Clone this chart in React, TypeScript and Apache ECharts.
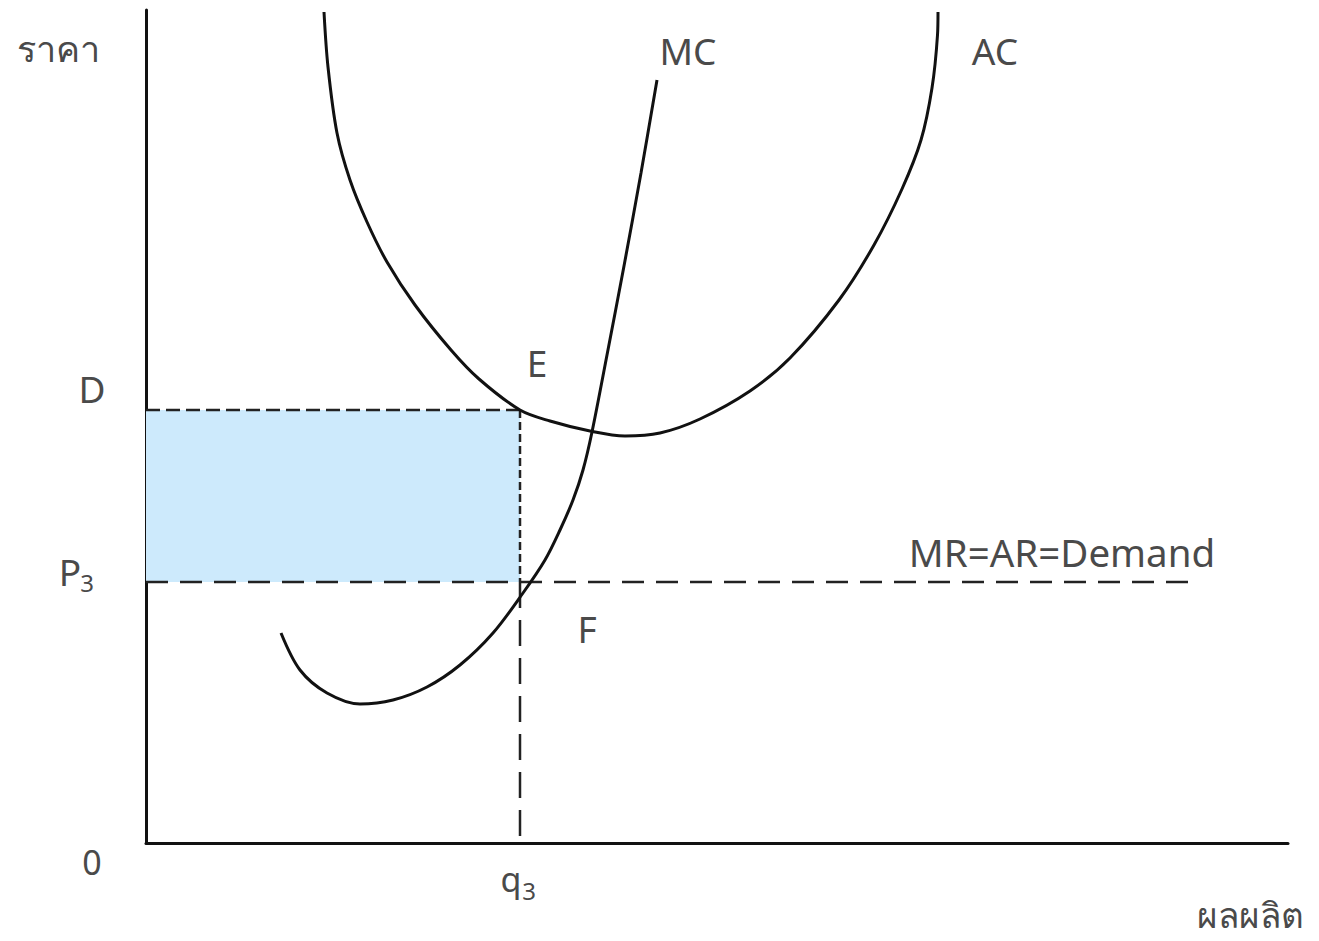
import React, { useEffect, useRef } from "react";
import * as echarts from "echarts";

// Quantity (x) and price (y) values
const acQuantity = [17.8, 18.2, 19.1, 20.4, 22.1, 24.1, 26.9, 30.5, 33.3, 37.4, 40.4, 44.4, 47.9, 51.4, 55.4, 60.4, 64.4, 69.3, 72.8, 75.6, 77.5, 78.6, 79.15, 79.2];
const acCost = [83.1, 77.6, 71.0, 66.3, 62.1, 58.1, 53.8, 49.3, 46.4, 43.3, 42.2, 41.2, 40.7, 41.0, 42.4, 45.2, 48.5, 54.3, 59.8, 65.4, 70.3, 75.5, 80.8, 83.1];

const mcQuantity = [13.5, 15.4, 18.1, 21.4, 24.7, 28.1, 31.4, 34.7, 37.7, 39.9, 41.4, 42.7, 43.7, 44.6, 46.1, 47.8, 49.5, 51.1];
const mcCost = [21.0, 17.3, 15.0, 13.9, 14.3, 15.6, 17.8, 21.0, 25.0, 28.3, 31.3, 34.3, 37.3, 41.1, 48.8, 57.7, 67.0, 76.3];

const q3 = 37.4;
const priceD = 43.3;
const priceP3 = 26.1;
const demandEnd = 104.4;
const xMax = 114.2;
const yMax = 83.3;

const zip = (xs: number[], ys: number[]) => xs.map((x, i) => [x, ys[i]]);

const FONT = '"Noto Sans", "Open Sans", sans-serif';
const TXT = "#4a4a4a";

function label(text: string, x: number, y: number, size = 37, align = "center") {
  return {
    type: "text",
    x,
    y,
    silent: true,
    style: {
      text,
      fill: TXT,
      font: `${size}px ${FONT}`,
      fontSize: size,
      fontFamily: FONT,
      align,
      verticalAlign: "middle",
      textAlign: align,
      textVerticalAlign: "middle",
    },
  };
}

export default function App() {
  const ref = useRef<HTMLDivElement>(null);
  useEffect(() => {
    if (!ref.current) return;
    const chart = echarts.init(ref.current, undefined, { renderer: "svg" });
    const axisLine = { show: true, lineStyle: { color: "#111", width: 3 } };
    chart.setOption({
      animation: false,
      backgroundColor: "#fff",
      grid: { left: 146, right: 31, top: 10, bottom: 98 },
      xAxis: {
        type: "value",
        min: 0,
        max: xMax,
        axisLine,
        axisTick: { show: false },
        axisLabel: { show: false },
        splitLine: { show: false },
      },
      yAxis: {
        type: "value",
        min: 0,
        max: yMax,
        axisLine,
        axisTick: { show: false },
        axisLabel: { show: false },
        splitLine: { show: false },
      },
      series: [
        {
          type: "line",
          name: "rect",
          data: [],
          silent: true,
          markArea: {
            silent: true,
            itemStyle: { color: "#cdeafc" },
            data: [[{ coord: [0, priceD] }, { coord: [q3, priceP3] }]],
          },
        },
        {
          type: "line",
          name: "D",
          data: [[0, priceD], [q3, priceD]],
          showSymbol: false,
          silent: true,
          lineStyle: { color: "#222", width: 2.5, type: [14, 6] },
        },
        {
          type: "line",
          name: "Demand",
          data: [[0, priceP3], [demandEnd, priceP3]],
          showSymbol: false,
          silent: true,
          lineStyle: { color: "#222", width: 2.5, type: [22, 12] },
        },
        {
          type: "line",
          name: "q3upper",
          data: [[q3, priceD], [q3, priceP3]],
          showSymbol: false,
          silent: true,
          lineStyle: { color: "#222", width: 2.5, type: [8, 4] },
        },
        {
          type: "line",
          name: "q3lower",
          data: [[q3, priceP3], [q3, 0]],
          showSymbol: false,
          silent: true,
          lineStyle: { color: "#222", width: 2.5, type: [26, 12] },
        },
        {
          type: "line",
          name: "AC",
          data: zip(acQuantity, acCost),
          smooth: 0.33,
          showSymbol: false,
          silent: true,
          lineStyle: { color: "#111", width: 3 },
        },
        {
          type: "line",
          name: "MC",
          data: zip(mcQuantity, mcCost),
          smooth: 0.33,
          showSymbol: false,
          silent: true,
          lineStyle: { color: "#111", width: 3 },
        },
      ],
      graphic: [
        label("ราคา", 58, 48, 36),
        label("D", 92, 388),
        label("P", 70, 571),
        label("3", 87, 582, 24),
        label("0", 92, 862, 34),
        label("q", 511, 879, 34),
        label("3", 529, 890, 24),
        label("ผลผลิต", 1250, 914, 35),
        label("MC", 688, 50),
        label("AC", 995, 50),
        label("E", 537, 362),
        label("F", 587, 628),
        label("MR=AR=Demand", 1062, 552, 38.5),
      ],
    });
    return () => chart.dispose();
  }, []);
  return (
    <div
      ref={ref}
      style={{ position: "absolute", left: 0, top: 0, width: 1319, height: 941, background: "#fff" }}
    />
  );
}
